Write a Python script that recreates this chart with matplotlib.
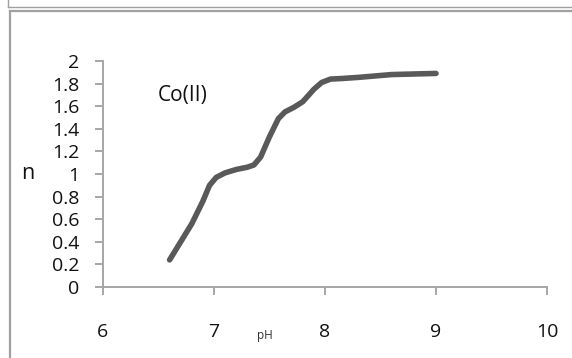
import matplotlib.pyplot as plt
from matplotlib.lines import Line2D

# data
pH = [6.6, 6.7, 6.8, 6.9, 6.96, 7.02, 7.1, 7.2, 7.3, 7.36, 7.42, 7.5, 7.58, 7.64, 7.72, 7.8, 7.9, 7.97, 8.05, 8.15, 8.3, 8.6, 9.0]
n = [0.24, 0.40, 0.56, 0.76, 0.90, 0.97, 1.01, 1.04, 1.06, 1.08, 1.15, 1.33, 1.49, 1.55, 1.59, 1.64, 1.75, 1.81, 1.84, 1.845, 1.855, 1.88, 1.89]
x_ticks = [6, 7, 8, 9, 10]
y_ticks = [0, 0.2, 0.4, 0.6, 0.8, 1, 1.2, 1.4, 1.6, 1.8, 2]

W, H = 572, 358
fig = plt.figure(figsize=(W / 100, H / 100), dpi=100)
fig.patch.set_facecolor('white')

# axes placed in pixel terms
left, right, top, bottom = 103, 547, 61, 287
ax = fig.add_axes([left / W, 1 - bottom / H, (right - left) / W, (bottom - top) / H])
ax.plot(pH, n, color='#595959', lw=4.0, solid_joinstyle='round', solid_capstyle='round')

ax.set_xlim(6, 10)
ax.set_ylim(0, 2)
ax.set_xticks(x_ticks)
ax.set_yticks(y_ticks)
ax.set_xticklabels([str(t) for t in x_ticks])
ax.set_yticklabels(['0', '0.2', '0.4', '0.6', '0.8', '1', '1.2', '1.4', '1.6', '1.8', '2'])
for s in ['top', 'right']:
    ax.spines[s].set_visible(False)
for s in ['left', 'bottom']:
    ax.spines[s].set_color('#a6a6a6')
    ax.spines[s].set_linewidth(1.4)
ax.tick_params(axis='both', direction='out', length=6, width=1.4, color='#a6a6a6',
               labelcolor='#111111', labelsize=14)
ax.tick_params(axis='y', pad=11)
ax.tick_params(axis='x', pad=20)
for lab in ax.get_xticklabels() + ax.get_yticklabels():
    lab.set_family('Open Sans')

fig.text(28 / W, 1 - 173 / H, 'n', fontsize=15.5, color='#111111', ha='center', va='center', family='Open Sans')
fig.text(265 / W, 1 - 336 / H, 'pH', fontsize=8.5, color='#333333', ha='center', va='center', family='Open Sans')
fig.text(158 / W, 1 - 96 / H, 'Co(II)', fontsize=15, color='#111111', ha='left', va='center', family='Open Sans')

# window frame lines
def px_line(xs, ys, lw, c='#a0a0a0'):
    fig.add_artist(Line2D([x / W for x in xs], [1 - y / H for y in ys], lw=lw, color=c,
                          transform=fig.transFigure))

px_line([8, 8], [0, 7], 1.0)
px_line([8, W], [7, 7], 1.0)
px_line([10, W], [10.5, 10.5], 1.6)
px_line([10, 10], [10.5, H], 1.6)

fig.savefig('out.png', dpi=100)
